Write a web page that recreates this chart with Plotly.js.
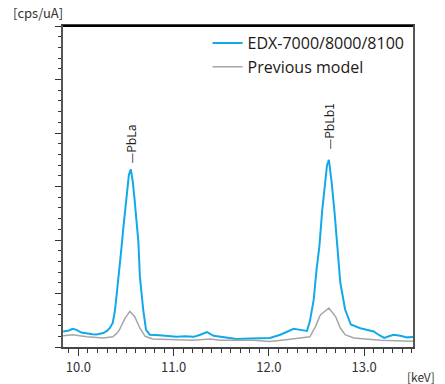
<!DOCTYPE html>
<html>
<head>
<meta charset="utf-8">
<script src="https://cdn.plot.ly/plotly-3.0.1.min.js"></script>
<style>html,body{margin:0;padding:0;background:#fff;}#chart{width:445px;height:384px;}</style>
</head>
<body>
<div id="chart"></div>
<script>
// Energy (keV) and intensity (relative, cps/uA)
const newEnergy = [9.84,9.90,9.94,9.98,10.03,10.09,10.15,10.19,10.26,10.30,10.33,10.36,10.38,10.40,10.42,10.45,10.47,10.49,10.51,10.53,10.55,10.57,10.59,10.61,10.63,10.645,10.66,10.68,10.71,10.75,10.85,10.95,11.03,11.12,11.21,11.28,11.35,11.42,11.49,11.58,11.66,11.80,11.92,12.01,12.12,12.20,12.26,12.33,12.40,12.43,12.47,12.50,12.53,12.56,12.59,12.61,12.63,12.66,12.69,12.72,12.75,12.80,12.86,12.96,13.03,13.10,13.16,13.21,13.26,13.31,13.38,13.45,13.52];
const newIntensity = [0.29,0.31,0.34,0.32,0.27,0.25,0.24,0.235,0.26,0.30,0.355,0.45,0.64,0.95,1.26,1.82,2.20,2.56,3.00,3.22,3.32,3.10,2.75,2.35,1.95,1.32,1.00,0.70,0.32,0.23,0.22,0.21,0.19,0.20,0.19,0.23,0.28,0.21,0.19,0.17,0.15,0.16,0.16,0.17,0.23,0.30,0.34,0.32,0.30,0.48,0.88,1.44,1.88,2.56,3.12,3.40,3.50,3.06,2.50,1.85,1.20,0.70,0.42,0.35,0.32,0.29,0.22,0.17,0.20,0.23,0.21,0.18,0.19];
const oldEnergy = [9.84,9.94,10.09,10.26,10.36,10.40,10.43,10.49,10.54,10.59,10.645,10.70,10.78,11.0,11.2,11.38,11.49,11.84,12.01,12.2,12.33,12.43,12.49,12.54,12.63,12.70,12.75,12.80,12.89,13.17,13.52];
const oldIntensity = [0.21,0.23,0.19,0.17,0.19,0.25,0.32,0.54,0.665,0.57,0.355,0.20,0.15,0.14,0.125,0.15,0.125,0.125,0.105,0.14,0.17,0.19,0.385,0.60,0.73,0.57,0.355,0.23,0.17,0.125,0.105];
const seriesNames = ["EDX-7000/8000/8100","Previous model"];
const peakNames = ["\u2014PbLa","\u2014PbLb1"];
const peakEnergy = [10.55,12.63];
const peakLabelY = [3.80,4.12];
const xTickVals = [10,11,12,13];
const xTickText = ["10.0","11.0","12.0","13.0"];

const traces = [
  {x:newEnergy, y:newIntensity, name:seriesNames[0], type:'scatter', mode:'lines',
   line:{color:'#12A9E8', width:2}},
  {x:oldEnergy, y:oldIntensity, name:seriesNames[1], type:'scatter', mode:'lines',
   line:{color:'#A6A6A6', width:1.5}}
];

const annotations = peakNames.map((t,i)=>({
  x:peakEnergy[i], y:peakLabelY[i], xref:'x', yref:'y', text:t, showarrow:false,
  textangle:-90, font:{family:'Noto Sans CJK JP, sans-serif', size:12, color:'#222'}
}));
annotations.push({xref:'paper', yref:'paper', x:-0.071, y:1.0, yshift:14, xanchor:'center', yanchor:'middle',
  text:'[cps/uA]', showarrow:false, font:{family:'Noto Sans CJK JP, sans-serif', size:13, color:'#333'}});
annotations.push({xref:'paper', yref:'paper', x:1.022, y:0, yshift:-29, xanchor:'center', yanchor:'middle',
  text:'[keV]', showarrow:false, font:{family:'Noto Sans CJK JP, sans-serif', size:12, color:'#333'}});

const layout = {
  width:445, height:384,
  margin:{l:63, r:32, t:26, b:37},
  paper_bgcolor:'#fff', plot_bgcolor:'#fff',
  showlegend:true,
  legend:{x:0.413, y:1.0, xanchor:'left', yanchor:'top', bgcolor:'rgba(0,0,0,0)',
    font:{family:'Open Sans, sans-serif', size:16, color:'#231815'}, itemwidth:30, tracegroupgap:0},
  xaxis:{range:[9.838,13.513], showgrid:false, zeroline:false,
    showline:true, linecolor:'#444', linewidth:2, mirror:true,
    tickmode:'array', tickvals:xTickVals, ticktext:xTickText,
    ticks:'outside', ticklen:7, tickwidth:1, tickcolor:'#333',
    minor:{dtick:0.1, ticks:'outside', ticklen:4, tickwidth:1, tickcolor:'#333', showgrid:false},
    tickfont:{family:'Noto Sans CJK JP, sans-serif', size:13, color:'#333'}},
  yaxis:{range:[0,6], showgrid:false, zeroline:false,
    showline:true, linecolor:'#555', linewidth:2, mirror:true,
    dtick:1, showticklabels:false,
    ticks:'outside', ticklen:6, tickwidth:1, tickcolor:'#333',
    minor:{dtick:0.2, ticks:'outside', ticklen:3, tickwidth:1, tickcolor:'#333', showgrid:false}},
  shapes:[{type:'line', xref:'paper', yref:'paper', x0:0, x1:1, y0:1, y1:1, line:{color:'#000', width:2}}],
  annotations:annotations
};

Plotly.newPlot('chart', traces, layout, {displayModeBar:false, staticPlot:true});
</script>
</body>
</html>
